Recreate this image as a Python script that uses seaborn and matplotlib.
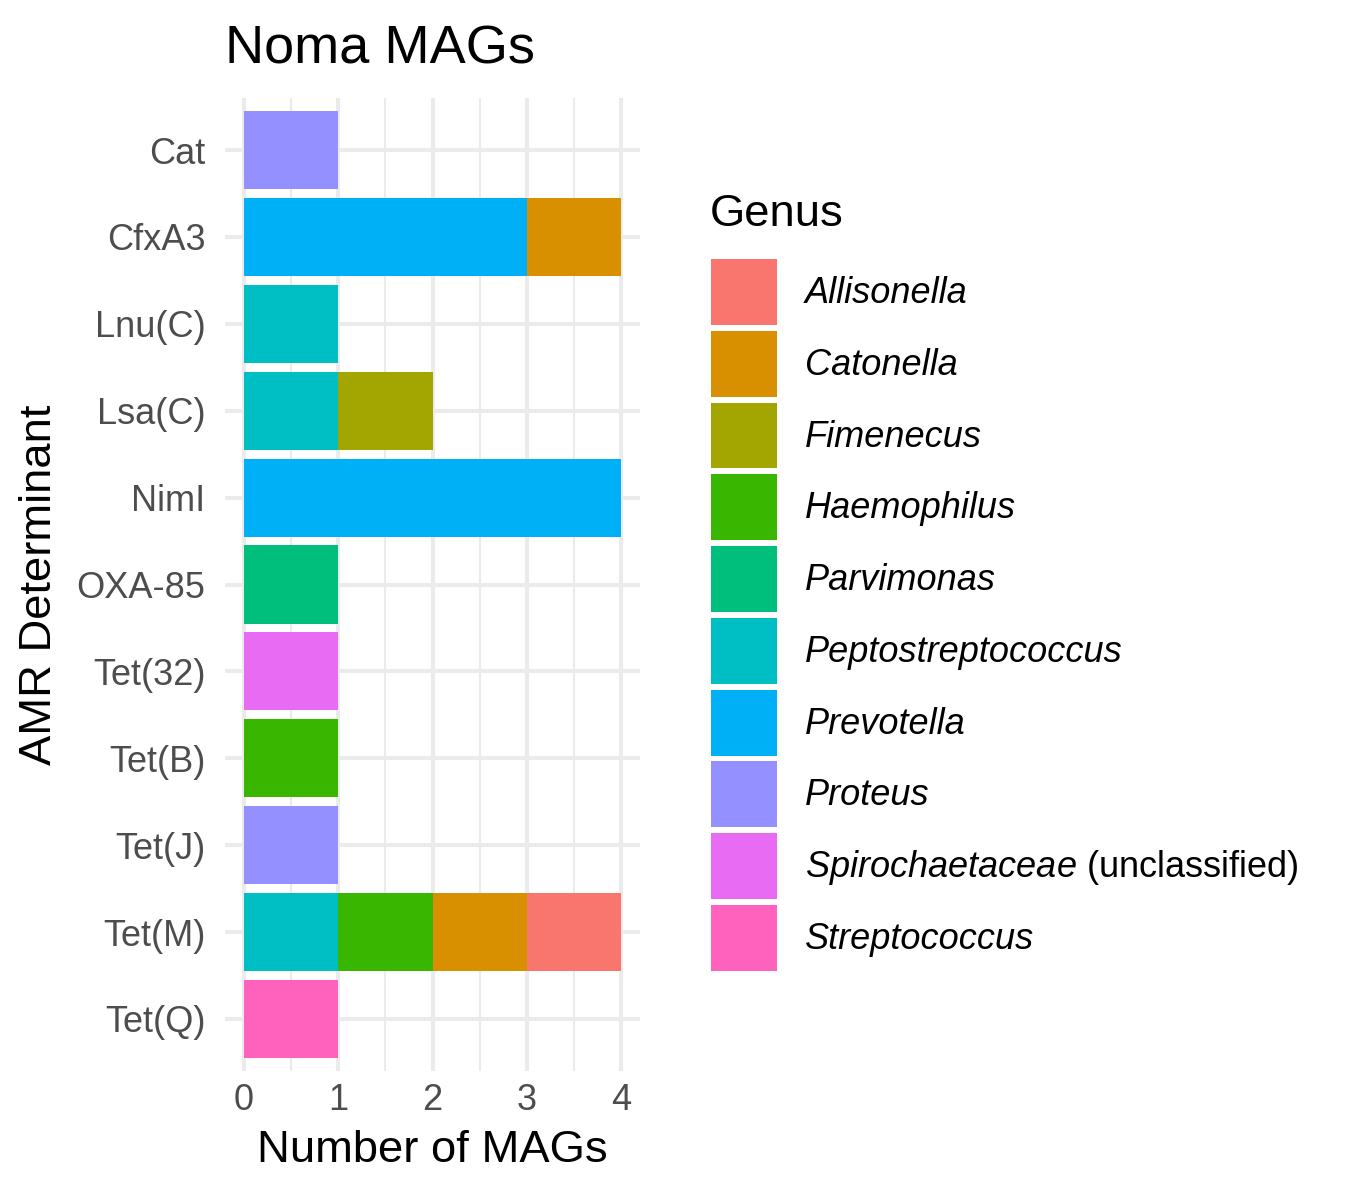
import matplotlib
matplotlib.use("Agg")
import matplotlib.pyplot as plt
from matplotlib.patches import Patch
from matplotlib.ticker import MultipleLocator
import seaborn as sns
import pandas as pd

# ---- data ----
determinants = ["Cat", "CfxA3", "Lnu(C)", "Lsa(C)", "NimI", "OXA-85",
                "Tet(32)", "Tet(B)", "Tet(J)", "Tet(M)", "Tet(Q)"]
genera = ["Allisonella", "Catonella", "Fimenecus", "Haemophilus", "Parvimonas",
          "Peptostreptococcus", "Prevotella", "Proteus",
          "Spirochaetaceae", "Streptococcus"]
genus_labels = ["Allisonella", "Catonella", "Fimenecus", "Haemophilus", "Parvimonas",
                "Peptostreptococcus", "Prevotella", "Proteus",
                r"$\it{Spirochaetaceae}$ (unclassified)", "Streptococcus"]
colors = ["#F8766D", "#D89000", "#A3A500", "#39B600", "#00BF7D",
          "#00BFC4", "#00B0F6", "#9590FF", "#E76BF3", "#FF62BC"]

rec_determinant = ["Cat", "CfxA3", "CfxA3", "Lnu(C)", "Lsa(C)", "Lsa(C)", "NimI",
                   "OXA-85", "Tet(32)", "Tet(B)", "Tet(J)",
                   "Tet(M)", "Tet(M)", "Tet(M)", "Tet(M)", "Tet(Q)"]
rec_genus = ["Proteus", "Prevotella", "Catonella", "Peptostreptococcus",
             "Peptostreptococcus", "Fimenecus", "Prevotella",
             "Parvimonas", "Spirochaetaceae", "Haemophilus", "Proteus",
             "Peptostreptococcus", "Haemophilus", "Catonella", "Allisonella",
             "Streptococcus"]
rec_count = [1, 3, 1, 1, 1, 1, 4, 1, 1, 1, 1, 1, 1, 1, 1, 1]

df = pd.DataFrame({"AMR": rec_determinant, "Genus": rec_genus, "n": rec_count})
# stacking like ggplot: later genera (alphabetically) closest to zero
df["rank"] = df["Genus"].map({g: i for i, g in enumerate(genera)})
df = df.sort_values(["AMR", "rank"], ascending=[True, False])
df["end"] = df.groupby("AMR")["n"].cumsum()

palette = dict(zip(genera, colors))

# ---- style ----
sns.set_theme(style="white")
plt.rcParams["font.family"] = ["Liberation Sans", "DejaVu Sans"]
plt.rcParams["mathtext.fontset"] = "custom"
plt.rcParams["mathtext.rm"] = "Liberation Sans"
plt.rcParams["mathtext.it"] = "Liberation Sans:italic"
plt.rcParams["text.color"] = "black"

fig = plt.figure(figsize=(13.5, 12), dpi=100)
ax = fig.add_axes([225 / 1350, 1 - 1071 / 1200, (640 - 225) / 1350, (1071 - 98) / 1200])

ax.set_axisbelow(True)
sns.barplot(data=df, x="end", y="AMR", hue="Genus", order=determinants,
            hue_order=genera, palette=palette, dodge=False, width=0.9,
            errorbar=None, orient="h", linewidth=0, legend=False, ax=ax,
            saturation=1)

ax.set_xlim(-0.2, 4.2)
ax.set_ylim(len(determinants) - 1 + 0.6, -0.6)
ax.xaxis.set_major_locator(MultipleLocator(1))
ax.xaxis.set_minor_locator(MultipleLocator(0.5))
ax.grid(True, which="major", axis="both", color="#EBEBEB", linewidth=2.9)
ax.grid(True, which="minor", axis="x", color="#EBEBEB", linewidth=1.5)
for s in ax.spines.values():
    s.set_visible(False)
ax.tick_params(axis="both", which="both", length=0, labelsize=26, labelcolor="#4D4D4D")
ax.tick_params(axis="x", pad=9)
ax.tick_params(axis="y", pad=14)

ax.set_xlabel("Number of MAGs", fontsize=32.7, color="black", labelpad=8)
ax.set_ylabel("AMR Determinant", fontsize=32.7, color="black", labelpad=12)
ax.set_title("Noma MAGs", fontsize=39, loc="left", pad=25, color="black")

# ---- legend ----
handles = [Patch(facecolor=palette[g], edgecolor="none") for g in genera]
fig.text(710 / 1350, 1 - 215 / 1200, "Genus", fontsize=32.7, va="center",
         ha="left", color="black")
leg = fig.legend(handles, genus_labels, loc="upper left",
                 bbox_to_anchor=(711 / 1350, 1 - 259 / 1200),
                 bbox_transform=fig.transFigure, frameon=False, fontsize=26,
                 handlelength=1.83, handleheight=2.434, labelspacing=0.16,
                 handletextpad=0.78, borderpad=0, borderaxespad=0)
for t, g in zip(leg.get_texts(), genera):
    t.set_color("black")
    if g != "Spirochaetaceae":
        t.set_fontstyle("italic")

fig.savefig("out.png", dpi=100)
